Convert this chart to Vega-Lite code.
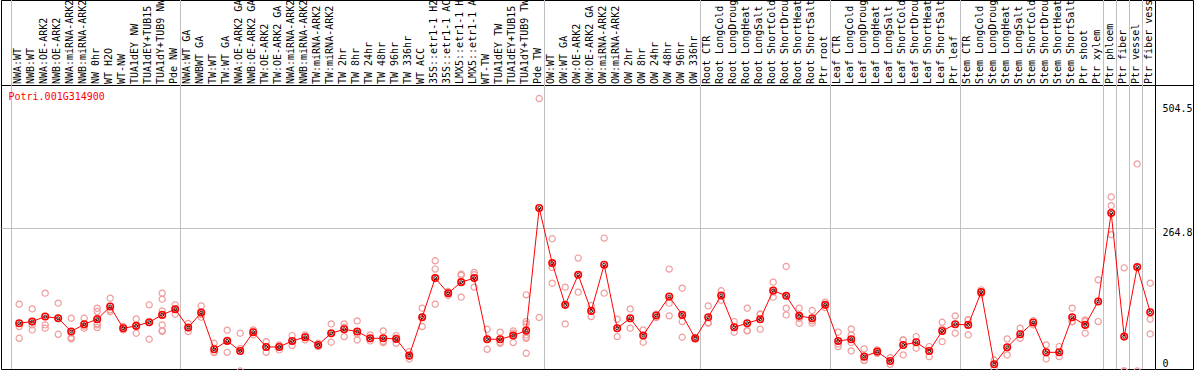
{
  "$schema": "https://vega.github.io/schema/vega-lite/v6.json",
  "autosize": {"type": "none"},
  "padding": {"left": 1, "top": 0, "right": 39, "bottom": 1},
  "width": 1154,
  "height": 369,
  "background": "white",
  "config": {
    "view": {"stroke": "black", "strokeWidth": 1},
    "axis": {"labelFont": "DejaVu Sans Mono", "labelFontSize": 10, "labelColor": "black"}
  },
  "datasets": {
    "seps": [
      {"c": "NWA:WT"}, {"c": "NWA:WT GA"}, {"c": "OW:WT"}, {"c": "Root CTR"}, {"c": "Leaf CTR"},
      {"c": "Stem CTR"}, {"c": "Ptr phloem"}, {"c": "Ptr fiber"}, {"c": "Ptr vessel"}, {"c": "Ptr fiber vessel"}
    ],
    "title": [{"t": "Potri.001G314900"}],
    "means": [
      {"c": "NWA:WT", "v": 88.5}, {"c": "NWB:WT", "v": 91.5}, {"c": "NWA:OE-ARK2", "v": 100.8}, {"c": "NWB:OE-ARK2", "v": 97.7},
      {"c": "NWA:miRNA-ARK2", "v": 73}, {"c": "NWB:miRNA-ARK2", "v": 86.6}, {"c": "NW 0hr", "v": 95.9}, {"c": "WT H2O", "v": 119.4},
      {"c": "WT-NW", "v": 79.2}, {"c": "TUA1dEY NW", "v": 83.5}, {"c": "TUA1dEY+TUB15 NW", "v": 90.3}, {"c": "TUA1dY+TUB9 NW", "v": 103.9},
      {"c": "Pde NW", "v": 114.4}, {"c": "NWA:WT GA", "v": 80.4}, {"c": "NWBWT GA", "v": 108.2}, {"c": "TW:WT", "v": 40.2},
      {"c": "TW:WT GA", "v": 55.7}, {"c": "NWA:OE-ARK2 GA", "v": 37.1}, {"c": "NWB:OE-ARK2 GA", "v": 71.8}, {"c": "TW:OE-ARK2", "v": 44.5},
      {"c": "TW:OE-ARK2 GA", "v": 44.5}, {"c": "NWA:miRNA-ARK2 GA", "v": 55.7}, {"c": "NWB:miRNA-ARK2 GA", "v": 62.5}, {"c": "TW:miRNA-ARK2", "v": 48.2},
      {"c": "TW:miRNA-ARK2 GA", "v": 69.9}, {"c": "TW 2hr", "v": 77.3}, {"c": "TW 8hr", "v": 73}, {"c": "TW 24hr", "v": 60.6},
      {"c": "TW 48hr", "v": 60.6}, {"c": "TW 96hr", "v": 59.4}, {"c": "TW 336hr", "v": 28.5}, {"c": "WT ACC", "v": 99.6},
      {"c": "35S::etr1-1 H2O", "v": 172}, {"c": "35S::etr1-1 ACC", "v": 144.1}, {"c": "LMX5::etr1-1 H2O", "v": 164.5}, {"c": "LMX5::etr1-1 ACC", "v": 172},
      {"c": "WT-TW", "v": 58.8}, {"c": "TUA1dEY TW", "v": 58.8}, {"c": "TUA1dEY+TUB15 TW", "v": 65.6}, {"c": "TUA1dY+TUB9 TW", "v": 74.8},
      {"c": "Pde TW", "v": 301.8}, {"c": "OW:WT", "v": 199.8}, {"c": "OW:WT GA", "v": 122.5}, {"c": "OW:OE-ARK2", "v": 178.1},
      {"c": "OW:OE-ARK2 GA", "v": 111.3}, {"c": "OW:miRNA-ARK2", "v": 196.7}, {"c": "OW:miRNA-ARK2 GA", "v": 79.2}, {"c": "OW 2hr", "v": 97.7},
      {"c": "OW 8hr", "v": 65.6}, {"c": "OW 24hr", "v": 102.7}, {"c": "OW 48hr", "v": 137.9}, {"c": "OW 96hr", "v": 103.9},
      {"c": "OW 336hr", "v": 60.6}, {"c": "Root CTR", "v": 99.6}, {"c": "Root LongCold", "v": 139.8}, {"c": "Root LongDrought", "v": 81},
      {"c": "Root LongHeat", "v": 88.5}, {"c": "Root LongSalt", "v": 95.9}, {"c": "Root ShortCold", "v": 149.1}, {"c": "Root ShortDrought", "v": 139.2},
      {"c": "Root ShortHeat", "v": 102.1}, {"c": "Root ShortSalt", "v": 97.7}, {"c": "Ptr root", "v": 122.5}, {"c": "Leaf CTR", "v": 55.7},
      {"c": "Leaf LongCold", "v": 58.8}, {"c": "Leaf LongDrought", "v": 26.6}, {"c": "Leaf LongHeat", "v": 35.9}, {"c": "Leaf LongSalt", "v": 18.6},
      {"c": "Leaf ShortCold", "v": 48.2}, {"c": "Leaf ShortDrought", "v": 53.2}, {"c": "Leaf ShortHeat", "v": 37.1}, {"c": "Leaf ShortSalt", "v": 74.2},
      {"c": "Ptr leaf", "v": 86.6}, {"c": "Stem CTR", "v": 85.4}, {"c": "Stem LongCold", "v": 146}, {"c": "Stem LongDrought", "v": 12.4},
      {"c": "Stem LongHeat", "v": 43.9}, {"c": "Stem LongSalt", "v": 68}, {"c": "Stem ShortCold", "v": 89.7}, {"c": "Stem ShortDrought", "v": 34.6},
      {"c": "Stem ShortHeat", "v": 34.6}, {"c": "Stem ShortSalt", "v": 99.6}, {"c": "Ptr shoot", "v": 85.4}, {"c": "Ptr xylem", "v": 128.7},
      {"c": "Ptr phloem", "v": 292.6}, {"c": "Ptr fiber", "v": 63.7}, {"c": "Ptr vessel", "v": 192.4}, {"c": "Ptr fiber vessel", "v": 108.9}
    ],
    "reps": [
      {"c": "NWA:WT", "v": 123.7}, {"c": "NWA:WT", "v": 82.3}, {"c": "NWA:WT", "v": 60.6},
      {"c": "NWB:WT", "v": 115}, {"c": "NWB:WT", "v": 85.4}, {"c": "NWB:WT", "v": 76.1},
      {"c": "NWA:OE-ARK2", "v": 144.1}, {"c": "NWA:OE-ARK2", "v": 85.4}, {"c": "NWA:OE-ARK2", "v": 79.2},
      {"c": "NWB:OE-ARK2", "v": 125.6}, {"c": "NWB:OE-ARK2", "v": 97.7}, {"c": "NWB:OE-ARK2", "v": 68},
      {"c": "NWA:miRNA-ARK2", "v": 97.7}, {"c": "NWA:miRNA-ARK2", "v": 62}, {"c": "NWA:miRNA-ARK2", "v": 59.5},
      {"c": "NWB:miRNA-ARK2", "v": 97.7}, {"c": "NWB:miRNA-ARK2", "v": 82.9}, {"c": "NWB:miRNA-ARK2", "v": 79.2},
      {"c": "NW 0hr", "v": 116.3}, {"c": "NW 0hr", "v": 110.1}, {"c": "NW 0hr", "v": 97.7}, {"c": "NW 0hr", "v": 87.3}, {"c": "NW 0hr", "v": 85.4}, {"c": "NW 0hr", "v": 80.4},
      {"c": "WT H2O", "v": 134.8}, {"c": "WT H2O", "v": 113.3}, {"c": "WT H2O", "v": 110.1},
      {"c": "WT-NW", "v": 82.3}, {"c": "WT-NW", "v": 79.2}, {"c": "WT-NW", "v": 76.1},
      {"c": "TUA1dEY NW", "v": 96.5}, {"c": "TUA1dEY NW", "v": 84.1}, {"c": "TUA1dEY NW", "v": 69.9},
      {"c": "TUA1dEY+TUB15 NW", "v": 122.5}, {"c": "TUA1dEY+TUB15 NW", "v": 89.6}, {"c": "TUA1dEY+TUB15 NW", "v": 58.8},
      {"c": "TUA1dY+TUB9 NW", "v": 144.1}, {"c": "TUA1dY+TUB9 NW", "v": 133}, {"c": "TUA1dY+TUB9 NW", "v": 111.3}, {"c": "TUA1dY+TUB9 NW", "v": 85.4}, {"c": "TUA1dY+TUB9 NW", "v": 74.8}, {"c": "TUA1dY+TUB9 NW", "v": 73.5},
      {"c": "Pde NW", "v": 122.5}, {"c": "Pde NW", "v": 115.5}, {"c": "Pde NW", "v": 105.2},
      {"c": "NWA:WT GA", "v": 88}, {"c": "NWA:WT GA", "v": 80}, {"c": "NWA:WT GA", "v": 73},
      {"c": "NWBWT GA", "v": 120.6}, {"c": "NWBWT GA", "v": 104.4}, {"c": "NWBWT GA", "v": 99.6},
      {"c": "TW:WT", "v": 51.3}, {"c": "TW:WT", "v": 35.3}, {"c": "TW:WT", "v": 34},
      {"c": "TW:WT GA", "v": 75.5}, {"c": "TW:WT GA", "v": 57}, {"c": "TW:WT GA", "v": 34.6},
      {"c": "NWA:OE-ARK2 GA", "v": 69.9}, {"c": "NWA:OE-ARK2 GA", "v": 41.4}, {"c": "NWA:OE-ARK2 GA", "v": 0},
      {"c": "NWB:OE-ARK2 GA", "v": 76.1}, {"c": "NWB:OE-ARK2 GA", "v": 72.5}, {"c": "NWB:OE-ARK2 GA", "v": 66.8},
      {"c": "TW:OE-ARK2", "v": 54.4}, {"c": "TW:OE-ARK2", "v": 44.5}, {"c": "TW:OE-ARK2", "v": 34.6},
      {"c": "TW:OE-ARK2 GA", "v": 48.2}, {"c": "TW:OE-ARK2 GA", "v": 46.3}, {"c": "TW:OE-ARK2 GA", "v": 39},
      {"c": "NWA:miRNA-ARK2 GA", "v": 65.6}, {"c": "NWA:miRNA-ARK2 GA", "v": 54.5}, {"c": "NWA:miRNA-ARK2 GA", "v": 47},
      {"c": "NWB:miRNA-ARK2 GA", "v": 66.8}, {"c": "NWB:miRNA-ARK2 GA", "v": 63.2}, {"c": "NWB:miRNA-ARK2 GA", "v": 57.5},
      {"c": "TW:miRNA-ARK2", "v": 51.3}, {"c": "TW:miRNA-ARK2", "v": 48.2}, {"c": "TW:miRNA-ARK2", "v": 45.2},
      {"c": "TW:miRNA-ARK2 GA", "v": 87.2}, {"c": "TW:miRNA-ARK2 GA", "v": 69.3}, {"c": "TW:miRNA-ARK2 GA", "v": 53.2},
      {"c": "TW 2hr", "v": 87.2}, {"c": "TW 2hr", "v": 81}, {"c": "TW 2hr", "v": 63.7},
      {"c": "TW 8hr", "v": 92.8}, {"c": "TW 8hr", "v": 68.7}, {"c": "TW 8hr", "v": 57.5},
      {"c": "TW 24hr", "v": 66.8}, {"c": "TW 24hr", "v": 59.4}, {"c": "TW 24hr", "v": 55.7},
      {"c": "TW 48hr", "v": 74.2}, {"c": "TW 48hr", "v": 55}, {"c": "TW 48hr", "v": 52.6},
      {"c": "TW 96hr", "v": 65.6}, {"c": "TW 96hr", "v": 61.3}, {"c": "TW 96hr", "v": 51.3},
      {"c": "TW 336hr", "v": 35.9}, {"c": "TW 336hr", "v": 27.3}, {"c": "TW 336hr", "v": 22.3},
      {"c": "WT ACC", "v": 116.3}, {"c": "WT ACC", "v": 100.2}, {"c": "WT ACC", "v": 82.3},
      {"c": "35S::etr1-1 H2O", "v": 204.1}, {"c": "35S::etr1-1 H2O", "v": 188.7}, {"c": "35S::etr1-1 H2O", "v": 123.7},
      {"c": "35S::etr1-1 ACC", "v": 147.2}, {"c": "35S::etr1-1 ACC", "v": 145.3}, {"c": "35S::etr1-1 ACC", "v": 139.8},
      {"c": "LMX5::etr1-1 H2O", "v": 179.4}, {"c": "LMX5::etr1-1 H2O", "v": 177.4}, {"c": "LMX5::etr1-1 H2O", "v": 136.7},
      {"c": "LMX5::etr1-1 ACC", "v": 182.5}, {"c": "LMX5::etr1-1 ACC", "v": 178.2}, {"c": "LMX5::etr1-1 ACC", "v": 155.3},
      {"c": "WT-TW", "v": 77.3}, {"c": "WT-TW", "v": 58.9}, {"c": "WT-TW", "v": 40.2},
      {"c": "TUA1dEY TW", "v": 71.8}, {"c": "TUA1dEY TW", "v": 53.3}, {"c": "TUA1dEY TW", "v": 51.3},
      {"c": "TUA1dEY+TUB15 TW", "v": 74.3}, {"c": "TUA1dEY+TUB15 TW", "v": 69.9}, {"c": "TUA1dEY+TUB15 TW", "v": 52.6},
      {"c": "TUA1dY+TUB9 TW", "v": 141}, {"c": "TUA1dY+TUB9 TW", "v": 91.5}, {"c": "TUA1dY+TUB9 TW", "v": 87.2}, {"c": "TUA1dY+TUB9 TW", "v": 66.8}, {"c": "TUA1dY+TUB9 TW", "v": 62.5}, {"c": "TUA1dY+TUB9 TW", "v": 60.6}, {"c": "TUA1dY+TUB9 TW", "v": 32.8},
      {"c": "Pde TW", "v": 504.5}, {"c": "Pde TW", "v": 99.1},
      {"c": "OW:WT", "v": 244.9}, {"c": "OW:WT", "v": 191.7}, {"c": "OW:WT", "v": 162.7},
      {"c": "OW:WT GA", "v": 155.3}, {"c": "OW:WT GA", "v": 87.2},
      {"c": "OW:OE-ARK2", "v": 209.1}, {"c": "OW:OE-ARK2", "v": 146},
      {"c": "OW:OE-ARK2 GA", "v": 121.2}, {"c": "OW:OE-ARK2 GA", "v": 100.8},
      {"c": "OW:miRNA-ARK2", "v": 246.1}, {"c": "OW:miRNA-ARK2", "v": 144.1},
      {"c": "OW:miRNA-ARK2 GA", "v": 95.9}, {"c": "OW:miRNA-ARK2 GA", "v": 63.7},
      {"c": "OW 2hr", "v": 115}, {"c": "OW 2hr", "v": 79.2},
      {"c": "OW 8hr", "v": 76.1}, {"c": "OW 8hr", "v": 53.2},
      {"c": "OW 24hr", "v": 105.2}, {"c": "OW 24hr", "v": 99},
      {"c": "OW 48hr", "v": 188.7}, {"c": "OW 48hr", "v": 125.6}, {"c": "OW 48hr", "v": 102.1},
      {"c": "OW 96hr", "v": 153.4}, {"c": "OW 96hr", "v": 91.5}, {"c": "OW 96hr", "v": 62.5},
      {"c": "OW 336hr", "v": 62}, {"c": "OW 336hr", "v": 59},
      {"c": "Root CTR", "v": 120.6}, {"c": "Root CTR", "v": 89.7}, {"c": "Root CTR", "v": 88.5},
      {"c": "Root LongCold", "v": 148.5}, {"c": "Root LongCold", "v": 131},
      {"c": "Root LongDrought", "v": 91.5}, {"c": "Root LongDrought", "v": 71.8},
      {"c": "Root LongHeat", "v": 116.3}, {"c": "Root LongHeat", "v": 75}, {"c": "Root LongHeat", "v": 74.2},
      {"c": "Root LongSalt", "v": 105.8}, {"c": "Root LongSalt", "v": 104.6}, {"c": "Root LongSalt", "v": 77.3},
      {"c": "Root ShortCold", "v": 164.5}, {"c": "Root ShortCold", "v": 146}, {"c": "Root ShortCold", "v": 136.7},
      {"c": "Root ShortDrought", "v": 193.6}, {"c": "Root ShortDrought", "v": 116.3}, {"c": "Root ShortDrought", "v": 103.9},
      {"c": "Root ShortHeat", "v": 116.3}, {"c": "Root ShortHeat", "v": 97.7}, {"c": "Root ShortHeat", "v": 88.5},
      {"c": "Root ShortSalt", "v": 112}, {"c": "Root ShortSalt", "v": 93}, {"c": "Root ShortSalt", "v": 88.5},
      {"c": "Ptr root", "v": 127.4}, {"c": "Ptr root", "v": 117.5},
      {"c": "Leaf CTR", "v": 71.8}, {"c": "Leaf CTR", "v": 50}, {"c": "Leaf CTR", "v": 45.2},
      {"c": "Leaf LongCold", "v": 77.9}, {"c": "Leaf LongCold", "v": 66.8}, {"c": "Leaf LongCold", "v": 53}, {"c": "Leaf LongCold", "v": 37.1},
      {"c": "Leaf LongDrought", "v": 40.8}, {"c": "Leaf LongDrought", "v": 19.8}, {"c": "Leaf LongDrought", "v": 19.2},
      {"c": "Leaf LongHeat", "v": 39}, {"c": "Leaf LongHeat", "v": 32.8},
      {"c": "Leaf LongSalt", "v": 24.7}, {"c": "Leaf LongSalt", "v": 12.4},
      {"c": "Leaf ShortCold", "v": 57.5}, {"c": "Leaf ShortCold", "v": 57.4}, {"c": "Leaf ShortCold", "v": 29.7},
      {"c": "Leaf ShortDrought", "v": 63.7}, {"c": "Leaf ShortDrought", "v": 42.1},
      {"c": "Leaf ShortHeat", "v": 45.2}, {"c": "Leaf ShortHeat", "v": 26.6},
      {"c": "Leaf ShortSalt", "v": 90.3}, {"c": "Leaf ShortSalt", "v": 78}, {"c": "Leaf ShortSalt", "v": 54.4},
      {"c": "Ptr leaf", "v": 102.1}, {"c": "Ptr leaf", "v": 69.9},
      {"c": "Stem CTR", "v": 94.8}, {"c": "Stem CTR", "v": 94.6}, {"c": "Stem CTR", "v": 66.8},
      {"c": "Stem LongCold", "v": 150.3}, {"c": "Stem LongCold", "v": 142.3},
      {"c": "Stem LongDrought", "v": 20.4}, {"c": "Stem LongDrought", "v": 4.9},
      {"c": "Stem LongHeat", "v": 59.4}, {"c": "Stem LongHeat", "v": 29.7},
      {"c": "Stem LongSalt", "v": 79.2}, {"c": "Stem LongSalt", "v": 60.6},
      {"c": "Stem ShortCold", "v": 93.4}, {"c": "Stem ShortCold", "v": 85.4},
      {"c": "Stem ShortDrought", "v": 48.2}, {"c": "Stem ShortDrought", "v": 22.3},
      {"c": "Stem ShortHeat", "v": 45.2}, {"c": "Stem ShortHeat", "v": 26.6},
      {"c": "Stem ShortSalt", "v": 116.3}, {"c": "Stem ShortSalt", "v": 91.5}, {"c": "Stem ShortSalt", "v": 91},
      {"c": "Ptr shoot", "v": 94.6}, {"c": "Ptr shoot", "v": 91.7}, {"c": "Ptr shoot", "v": 69.9},
      {"c": "Ptr xylem", "v": 168.9}, {"c": "Ptr xylem", "v": 91.5},
      {"c": "Ptr phloem", "v": 322.3}, {"c": "Ptr phloem", "v": 306.2}, {"c": "Ptr phloem", "v": 252.4},
      {"c": "Ptr fiber", "v": 191}, {"c": "Ptr fiber", "v": 0}, {"c": "Ptr fiber", "v": 0},
      {"c": "Ptr vessel", "v": 383.5}, {"c": "Ptr vessel", "v": 0},
      {"c": "Ptr fiber vessel", "v": 162.7}, {"c": "Ptr fiber vessel", "v": 95.9}, {"c": "Ptr fiber vessel", "v": 68.7}
    ]
  },
  "layer": [
    {
      "data": {"name": "seps"},
      "mark": {"type": "rule", "color": "#c0c0c0", "strokeWidth": 1},
      "encoding": {
        "x": {
          "field": "c", "type": "nominal", "bandPosition": 0.0385, "title": null,
          "scale": {
            "type": "band", "paddingInner": 0, "paddingOuter": 0.38461538, "align": 1,
            "domain": ["NWA:WT", "NWB:WT", "NWA:OE-ARK2", "NWB:OE-ARK2", "NWA:miRNA-ARK2", "NWB:miRNA-ARK2", "NW 0hr", "WT H2O", "WT-NW", "TUA1dEY NW", "TUA1dEY+TUB15 NW", "TUA1dY+TUB9 NW", "Pde NW", "NWA:WT GA", "NWBWT GA", "TW:WT", "TW:WT GA", "NWA:OE-ARK2 GA", "NWB:OE-ARK2 GA", "TW:OE-ARK2", "TW:OE-ARK2 GA", "NWA:miRNA-ARK2 GA", "NWB:miRNA-ARK2 GA", "TW:miRNA-ARK2", "TW:miRNA-ARK2 GA", "TW 2hr", "TW 8hr", "TW 24hr", "TW 48hr", "TW 96hr", "TW 336hr", "WT ACC", "35S::etr1-1 H2O", "35S::etr1-1 ACC", "LMX5::etr1-1 H2O", "LMX5::etr1-1 ACC", "WT-TW", "TUA1dEY TW", "TUA1dEY+TUB15 TW", "TUA1dY+TUB9 TW", "Pde TW", "OW:WT", "OW:WT GA", "OW:OE-ARK2", "OW:OE-ARK2 GA", "OW:miRNA-ARK2", "OW:miRNA-ARK2 GA", "OW 2hr", "OW 8hr", "OW 24hr", "OW 48hr", "OW 96hr", "OW 336hr", "Root CTR", "Root LongCold", "Root LongDrought", "Root LongHeat", "Root LongSalt", "Root ShortCold", "Root ShortDrought", "Root ShortHeat", "Root ShortSalt", "Ptr root", "Leaf CTR", "Leaf LongCold", "Leaf LongDrought", "Leaf LongHeat", "Leaf LongSalt", "Leaf ShortCold", "Leaf ShortDrought", "Leaf ShortHeat", "Leaf ShortSalt", "Ptr leaf", "Stem CTR", "Stem LongCold", "Stem LongDrought", "Stem LongHeat", "Stem LongSalt", "Stem ShortCold", "Stem ShortDrought", "Stem ShortHeat", "Stem ShortSalt", "Ptr shoot", "Ptr xylem", "Ptr phloem", "Ptr fiber", "Ptr vessel", "Ptr fiber vessel"]
          },
          "axis": {
            "orient": "top", "offset": -85, "bandPosition": 0.63, "labelAngle": -90,
            "labelAlign": "left", "labelBaseline": "middle", "ticks": false, "domain": false,
            "grid": false, "labelPadding": 1.5, "labelOverlap": false, "labelLimit": 300, "title": null
          }
        }
      }
    },
    {
      "data": {"name": "reps"},
      "mark": {"type": "point", "shape": "circle", "filled": false, "stroke": "#f09c9c", "strokeWidth": 1.2, "size": 38, "opacity": 1},
      "encoding": {
        "x": {"field": "c", "type": "nominal", "bandPosition": 0.63, "title": null},
        "y": {
          "field": "v", "type": "quantitative", "title": null,
          "scale": {"domain": [3.7, 687.0], "nice": false, "zero": false},
          "axis": {
            "orient": "right", "offset": 38, "title": null,
            "values": [3.7, 264.8, 504.5, 529.6, 687.0],
            "tickSize": -38, "tickColor": "black",
            "tickOpacity": {"condition": {"test": "datum.value == 3.7 || datum.value > 520", "value": 1}, "value": 0},
            "domain": true, "domainColor": "black",
            "grid": true,
            "gridColor": {"condition": {"test": "datum.value == 264.8", "value": "#c0c0c0"}, "value": "black"},
            "gridOpacity": {"condition": {"test": "datum.value == 264.8 || datum.value == 529.6", "value": 1}, "value": 0},
            "format": ".1~f",
            "labelExpr": "datum.value == 3.7 ? '0' : (datum.value == 264.8 || datum.value == 504.5) ? datum.label : ''",
            "labelAlign": "left", "labelBaseline": "top", "labelPadding": 7,
            "labelOffset": {"condition": [{"test": "datum.value == 3.7", "value": -11}, {"test": "datum.value == 504.5", "value": 5}], "value": 0}
          }
        }
      }
    },
    {
      "data": {"name": "means"},
      "mark": {"type": "line", "color": "#ff0000", "strokeWidth": 1},
      "encoding": {
        "x": {"field": "c", "type": "nominal", "bandPosition": 0.63, "title": null},
        "y": {"field": "v", "type": "quantitative", "title": null},
        "order": {"value": null}
      }
    },
    {
      "data": {"name": "means"},
      "mark": {"type": "point", "shape": "circle", "filled": false, "stroke": "#ff0000", "strokeWidth": 1.6, "size": 42, "opacity": 1},
      "encoding": {
        "x": {"field": "c", "type": "nominal", "bandPosition": 0.63, "title": null},
        "y": {"field": "v", "type": "quantitative", "title": null}
      }
    },
    {
      "data": {"name": "means"},
      "mark": {"type": "point", "shape": "circle", "filled": false, "stroke": "#000000", "strokeWidth": 0.8, "size": 9, "opacity": 1},
      "encoding": {
        "x": {"field": "c", "type": "nominal", "bandPosition": 0.63, "title": null},
        "y": {"field": "v", "type": "quantitative", "title": null}
      }
    },
    {
      "data": {"name": "title"},
      "mark": {"type": "text", "color": "#ff0000", "font": "DejaVu Sans Mono", "fontSize": 10, "align": "left", "baseline": "alphabetic", "dx": -2.5},
      "encoding": {
        "x": {"datum": "NWA:WT", "type": "nominal", "bandPosition": 0},
        "y": {"datum": 502, "type": "quantitative"},
        "text": {"field": "t"}
      }
    }
  ]
}
